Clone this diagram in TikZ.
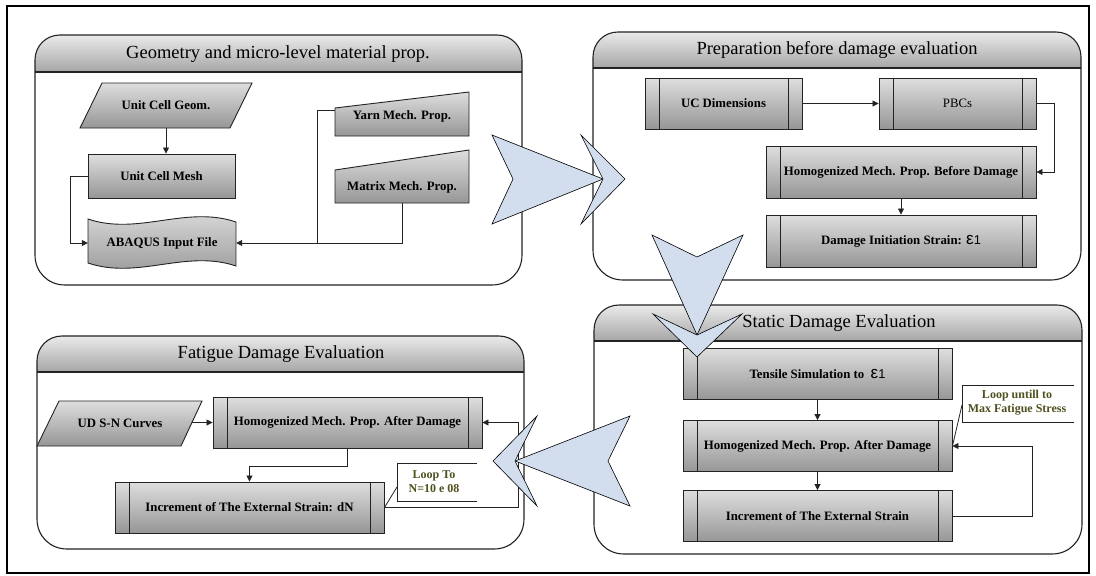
\documentclass[tikz,border=0pt]{standalone}
\usepackage{fontspec}
\setmainfont{Liberation Serif}
\newfontfamily\epsfont{Liberation Sans}
\usetikzlibrary{arrows.meta,calc}

\definecolor{chevcol}{RGB}{210,222,238}
\definecolor{hdtop}{RGB}{234,234,234}
\definecolor{hdbot}{RGB}{166,166,166}
\definecolor{bxtop}{RGB}{222,222,222}
\definecolor{bxbot}{RGB}{150,150,150}
\definecolor{olivetxt}{RGB}{79,79,31}
\definecolor{edgecol}{RGB}{35,35,35}

\newcommand\epsone{{\epsfont\mdseries{\fontsize{17}{17}\selectfont ε}1}}

% L T H R B
\newcommand\mypanel[5]{%
 \shade[top color=hdtop,bottom color=hdbot] (#1,#3) -- (#1,#2+25) .. controls (#1,#2+11) and (#1+11,#2) .. (#1+25,#2) -- (#4-25,#2) .. controls (#4-11,#2) and (#4,#2+11) .. (#4,#2+25) -- (#4,#3) -- cycle;
 \draw[paneledge] (#1,#2+25) .. controls (#1,#2+11) and (#1+11,#2) .. (#1+25,#2) -- (#4-25,#2) .. controls (#4-11,#2) and (#4,#2+11) .. (#4,#2+25) -- (#4,#5-30) .. controls (#4,#5-13) and (#4-13,#5) .. (#4-30,#5) -- (#1+30,#5) .. controls (#1+13,#5) and (#1,#5-13) .. (#1,#5-30) -- cycle;
 \draw[paneledge] (#1,#3) -- (#4,#3);
}

\tikzset{
 paneledge/.style={draw=edgecol, line width=1.1pt},
 titletext/.style={font=\fontsize{18.5}{20}\selectfont, inner sep=0pt},
 boxfill/.style={draw=edgecol, line width=0.9pt, top color=bxtop, bottom color=bxbot},
 boxtext/.style={font=\bfseries\fontsize{12.8}{14}\selectfont, inner sep=0pt, align=center},
 pbox/.style={boxfill, boxtext, minimum width=269pt, minimum height=51pt,
   path picture={
     \draw[edgecol, line width=0.8pt] ([xshift=14pt]path picture bounding box.north west) -- ([xshift=14pt]path picture bounding box.south west);
     \draw[edgecol, line width=0.8pt] ([xshift=-14pt]path picture bounding box.north east) -- ([xshift=-14pt]path picture bounding box.south east);}},
 sbox/.style={boxfill, boxtext},
 lbl/.style={boxtext},
 conn/.style={draw=edgecol, line width=0.8pt, -{Triangle[length=6pt,width=6pt]}},
 plain/.style={draw=edgecol, line width=0.8pt},
 calltext/.style={font=\bfseries\fontsize{12}{14}\selectfont, text=olivetxt, align=center, inner sep=0pt},
 chev/.style={fill=chevcol, draw=black, line width=0.6pt, line join=miter},
}

\begin{document}
\begin{tikzpicture}[x=1pt,y=-1pt]
\useasboundingbox (0,0) rectangle (1096,576);
\fill[white] (0,0) rectangle (1096,576);
\draw[line width=2pt] (7,6) rectangle (1089,573);

% ---------- panels ----------
\mypanel{35}{35}{72}{522}{285}
\mypanel{593}{32}{68}{1081}{280}
\mypanel{594}{305}{341}{1082}{554}
\mypanel{37}{336}{372}{524}{549}

\node[titletext] (t1) at (278,54) {Geometry and micro-level material prop.};
\node[titletext] (t2) at (837,50) {Preparation before damage evaluation};
\node[titletext] (t3) at (839,323) {Static Damage Evaluation};
\node[titletext] (t4) at (281,354) {Fatigue Damage Evaluation};

% ---------- panel 1 ----------
\draw[boxfill] (80,128) -- (230,128) -- (252,83) -- (102,83) -- cycle;
\node[lbl, minimum width=150pt, minimum height=45pt] (geom) at (166,105.5) {Unit Cell Geom.};
\node[sbox, minimum width=147pt, minimum height=44pt] (mesh) at (161.5,176) {Unit Cell Mesh};
\draw[boxfill] (88,219) .. controls (138,236) and (186,205) .. (236,222) -- (236,266) .. controls (186,249) and (138,280) .. (88,263) -- cycle;
\node[lbl, minimum width=148pt, minimum height=40pt] (abaqus) at (162,243) {ABAQUS Input File};
\draw[boxfill] (335,108) -- (469,92) -- (469,136) -- (335,136) -- cycle;
\node[lbl, minimum width=134pt, minimum height=28pt] (yarn) at (402,116) {Yarn Mech. Prop.};
\draw[boxfill] (335,170) -- (469,150) -- (469,203) -- (335,203) -- cycle;
\node[lbl, minimum width=134pt, minimum height=32pt] (matrix) at (402,187) {Matrix Mech. Prop.};
\coordinate (j1) at (317,243);

\draw[conn] (geom.south) -- (geom.south |- mesh.north);
\draw[conn] (mesh.west) -- ++(-17,0) |- (abaqus.west);
\draw[conn] (matrix.south) |- (abaqus.east);
\draw[plain] ([yshift=6pt]yarn.west) -| (j1);

% ---------- panel 2 ----------
\node[pbox, minimum width=157pt] (ucd) at (723.5,103.5) {UC Dimensions};
\node[pbox, minimum width=157pt, font=\fontsize{12.8}{14}\selectfont] (pbc) at (957.5,103.5) {PBCs};
\node[pbox, minimum width=270pt, minimum height=52pt] (hbd) at (901,172) {Homogenized Mech. Prop. Before Damage};
\node[pbox, minimum width=270pt, minimum height=52pt] (dis) at (901,241) {Damage Initiation Strain: \epsone};
\draw[conn] (ucd.east) -- (pbc.west);
\draw[conn] (pbc.east) -- ++(18,0) |- (hbd.east);
\draw[conn] (hbd.south) -- (dis.north);

% ---------- panel 3 ----------
\node[pbox] (tsim) at (817.5,374) {Tensile Simulation to \ \epsone};
\node[pbox] (had) at (817.5,446) {Homogenized Mech. Prop. After Damage};
\node[pbox] (ies) at (817.5,516) {Increment of The External Strain};
\draw[conn] (tsim.south) -- (had.north);
\draw[conn] (had.south) -- (ies.north);
\draw[conn] (ies.east) -- ++(80,0) |- (had.east);
\draw[plain] (1074,385) -- (962,385) -- (962,422) -- (1074,422);
\node[calltext] (call1) at (1017,403) {Loop untill to\\Max Fatigue Stress};
\coordinate (c1) at (962,405);
\draw[plain] (c1) -- (had.east);

% ---------- panel 4 ----------
\draw[boxfill] (37,446) -- (181,446) -- (202,401) -- (59,401) -- cycle;
\node[lbl, minimum width=140pt, minimum height=40pt] (sn) at (120,423) {UD S-N Curves};
\coordinate (snr) at (191.5,422.5);
\node[pbox] (fhad) at (347.5,422.5) {Homogenized Mech. Prop. After Damage};
\node[pbox] (fies) at (249.5,507.5) {Increment of The External Strain: dN};
\draw[conn] (snr) -- (fhad.west);
\draw[conn] (fhad.south) -- ++(0,18) -| (fies.north);
\draw[conn] (fies.east) -- ++(134,0) |- (fhad.east);
\draw[plain] (477,463) -- (397,463) -- (397,501) -- (477,501);
\node[calltext] (call2) at (434,482) {Loop To\\N=10 e 08};
\coordinate (c2) at (397,487);
\draw[plain] (c2) -- (fies.east);

% ---------- big chevrons ----------
\draw[chev] (492,135) -- (603,179) -- (492,224) -- (513,179) -- cycle;
\draw[chev] (581,135) -- (625,179) -- (581,224) -- (603,179) -- cycle;
\draw[chev] (652,235) -- (697,257) -- (743,235) -- (697,335) -- cycle;
\draw[chev] (653,314) -- (697,335) -- (742,314) -- (697,357) -- cycle;
\draw[chev] (630,416) -- (608,461) -- (630,506) -- (515,461) -- cycle;
\draw[chev] (537,416) -- (515,461) -- (537,506) -- (493,461) -- cycle;
\end{tikzpicture}
\end{document}
